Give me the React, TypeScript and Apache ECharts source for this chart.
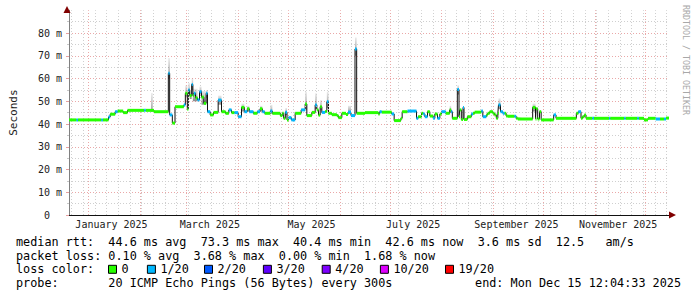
import React, { useEffect, useRef } from 'react';
import * as echarts from 'echarts';

// ---- time frame ----
const END_TIME = Date.UTC(2025, 11, 15, 12, 4, 33);
const SPAN_DAYS = 360;
const DAY = 86400000;
const START_TIME = END_TIME - SPAN_DAYS * DAY;

// ---- median RTT (step segments): start day (days since start of the graph), median ms, loss level index ----
const segStartDays = [
  0, 4.5, 5.4, 19.4, 20.3, 23.7, 24.7, 27.7, 29.1, 32.5, 35.1, 45.1, 46.0, 51.0,
  59.6, 60.4, 62.0, 63.6, 68.9, 69.8, 71.0, 71.6, 72.4, 73.6, 74.3, 74.9, 75.9, 77.1,
  78.3, 79.5, 80.9, 82.3, 83.1, 84.7, 86.7, 89.5, 91.5, 93.9, 95.9, 97.5, 99.3, 101.5,
  103.5, 105.2, 106.9, 108.2, 110.6, 113.0, 114.6, 116.0, 117.4, 120.8, 122.0, 126.8,
  128.0, 128.8, 129.8, 130.8, 131.7, 133.4, 135.7, 139.3, 141.7, 142.7, 145.7, 147.7,
  148.7, 149.7, 150.7, 151.7, 153.7, 154.7, 155.7, 157.7, 160.7, 161.6, 163.7, 166.2,
  167.4, 169.2, 171.6, 172.6, 177.6, 185.6, 186.4, 187.6, 193.6, 195.1, 199.1, 199.9,
  203.1, 208.5, 209.5, 211.5, 212.5, 213.5, 215.1, 216.5, 218.5, 219.5, 221.1, 222.5,
  223.5, 226.0, 228.4, 229.3, 230.0, 233.0, 234.0, 234.4, 235.4, 236.4, 237.0, 239.0,
  241.4, 242.4, 243.4, 247.4, 248.3, 250.4, 251.2, 252.4, 254.3, 255.3, 256.4, 257.3,
  257.7, 258.9, 260.3, 261.3, 262.3, 263.3, 267.3, 268.3, 269.3, 278.2, 279.9, 280.3,
  281.2, 282.3, 283.3, 290.8, 292.2, 304.4, 305.6, 307.2, 308.1, 309.2, 310.2, 314.1,
  315.0, 324.1, 324.7, 333.1, 333.9, 341.0, 341.9, 345.0, 347.4, 352.0, 354.6, 357.0,
  358.2,
];
const segMedianMs = [
  41.8, 41.8, 41.8, 41.8, 41.8, 43.1, 44.3, 45.4, 45.7, 45.0, 46.0, 46.0, 46.0, 45.4,
  62.3, 44.0, 40.4, 47.6, 48.4, 53.5, 46.5, 55.0, 52.5, 57.4, 52.5, 53.5, 51.5, 50.6,
  54.2, 51.8, 49.1, 53.5, 45.4, 44.0, 45.1, 50.5, 45.4, 44.7, 46.2, 45.0, 45.0, 43.2,
  47.3, 45.4, 46.7, 45.4, 44.7, 45.4, 46.7, 45.4, 44.7, 45.7, 44.7, 43.7,
  44.7, 42.5, 45.2, 41.8, 42.8, 41.8, 44.7, 46.2, 48.8, 43.7, 45.1, 48.4,
  46.2, 43.9, 47.6, 45.1, 45.5, 49.8, 44.7, 44.1, 43.7, 42.8, 44.7, 44.2,
  45.2, 43.7, 73.0, 44.7, 45.0, 44.4, 45.4, 45.2, 44.4, 41.5, 42.5, 45.4,
  45.7, 42.5, 43.2, 44.7, 44.4, 43.2, 45.4, 43.5, 42.5, 44.4, 42.5, 44.4,
  45.4, 44.7, 46.2, 45.4, 42.5, 55.2, 43.2, 46.2, 42.0, 47.3, 42.0, 43.2,
  44.4, 44.7, 45.2, 45.7, 43.2, 44.0, 44.7, 45.4, 44.7, 44.0, 42.5, 44.7,
  48.4, 45.4, 44.7, 44.7, 43.5, 43.4, 43.4, 42.5, 42.2, 47.3, 42.2, 46.7,
  42.2, 45.4, 41.8, 44.0, 42.5, 44.7, 45.4, 42.5, 43.2, 44.0, 42.5, 42.5,
  42.5, 42.5, 42.5, 42.5, 42.5, 42.5, 42.5, 41.8, 42.5, 42.2, 42.2, 42.2,
  42.6,
];
const segLoss = [
  0, 1, 0, 1, 0, 1, 0, 1, 0, 0, 0, 1, 0, 0,
  1, 1, 0, 0, 1, 0, 0, 1, 0, 1, 0, 1, 0, 1,
  1, 0, 0, 1, 1, 0, 0, 1, 0, 0, 1, 0, 1, 1,
  0, 1, 0, 1, 0, 1, 0, 1, 0, 1, 0, 0,
  0, 0, 1, 0, 1, 1, 0, 1, 0, 0, 0, 1,
  0, 0, 0, 1, 0, 1, 0, 0, 0, 0, 0, 0,
  1, 1, 1, 0, 0, 0, 1, 0, 1, 0, 0, 0,
  1, 1, 0, 0, 1, 1, 0, 0, 1, 0, 1, 0,
  1, 0, 0, 1, 0, 1, 0, 0, 0, 1, 0, 0,
  1, 0, 0, 1, 1, 0, 0, 0, 0, 0, 0, 0,
  1, 1, 1, 0, 0, 0, 1, 0, 0, 0, 0, 0,
  0, 0, 0, 1, 0, 0, 1, 0, 0, 0, 0, 1,
  0, 1, 0, 1, 0, 1, 0, 0, 0, 1, 0, 1,
  0,
];

// ---- smoke (spread of the pings) ----
const smokeStartDays = [49.3, 59.6, 69.8, 71.6, 72.4, 73.6, 74.3, 78.3, 79.5, 82.3, 89.5, 103.5, 106.9, 114.6, 120.8, 129.8, 141.7, 147.7, 150.7, 154.7, 167.4, 171.6, 228.4, 233.0, 257.7, 278.2];
const smokeEndDays = [50.0, 60.4, 71.0, 72.4, 73.6, 74.3, 77.1, 79.5, 82.3, 83.1, 91.5, 105.2, 108.2, 116.0, 122.0, 130.8, 142.7, 148.7, 151.7, 155.7, 169.2, 172.6, 229.3, 234.0, 258.9, 279.9];
const smokeLowMs = [45.4, 60.0, 52.0, 53.0, 51.0, 55.0, 50.0, 52.5, 48.5, 51.5, 48.5, 45.5, 45.5, 45.5, 44.5, 44.0, 46.0, 46.5, 46.0, 47.0, 44.5, 70.0, 45.0, 53.0, 46.5, 45.5];
const smokeHighMs = [53.6, 69.0, 57.0, 58.0, 55.0, 60.0, 55.5, 56.5, 54.5, 55.0, 52.5, 49.0, 48.0, 48.0, 48.4, 47.0, 54.2, 53.5, 50.5, 54.2, 48.0, 78.0, 48.0, 57.0, 51.3, 49.0];

// ---- legend / loss colours ----
const lossNames = ['0', '1/20', '2/20', '3/20', '4/20', '10/20', '19/20'];
const lossColors = ['#26ff00', '#00b8ff', '#0059ff', '#5e00ff', '#7e00ff', '#dd00ff', '#ff0000'];

// ---- axes ----
const yMin = 0;
const yMax = 90;
const yInterval = 10;
const monthStartDates = ['2025-01-01', '2025-02-01', '2025-03-01', '2025-04-01', '2025-05-01', '2025-06-01', '2025-07-01', '2025-08-01', '2025-09-01', '2025-10-01', '2025-11-01', '2025-12-01'];
const monthLabelDates = ['2025-01-15', '2025-03-15', '2025-05-15', '2025-07-15', '2025-09-15', '2025-11-15'];
const monthLabelTexts = ['January 2025', 'March 2025', 'May 2025', 'July 2025', 'September 2025', 'November 2025'];
const firstWeekDate = '2024-12-22';

// ---- texts ----
const statsLine1 = 'median rtt:  44.6 ms avg  73.3 ms max  40.4 ms min  42.6 ms now  3.6 ms sd  12.5   am/s';
const statsLine2 = 'packet loss: 0.10 % avg  3.68 % max  0.00 % min  1.68 % now';
const lossColorLabel = 'loss color:';
const probeText = 'probe:       20 ICMP Echo Pings (56 Bytes) every 300s';
const endText = 'end: Mon Dec 15 12:04:33 2025';
const watermark = 'RRDTOOL / TOBI OETIKER';

const MONO = '"DejaVu Sans Mono", monospace';
const LEGEND_FONT = 11.8;
// width reserved for each legend label so the boxes fall where the reference puts them
const legendTextWidths = [25.4, 43.6, 45.4, 45.3, 44.7, 51.6, 40];

function App() {
  const ref = useRef<HTMLDivElement>(null);

  useEffect(() => {
    if (!ref.current) return;
    const chart = echarts.init(ref.current, null, { renderer: 'svg' });
    const toTime = (d: number) => START_TIME + d * DAY;
    const dateTs = (s: string) => Date.parse(s + 'T00:00:00Z');

    const segEnds = segStartDays.map((d, i) => (i + 1 < segStartDays.length ? segStartDays[i + 1] : SPAN_DAYS));

    const monthTs = monthStartDates.map(dateTs);
    const weekTs: number[] = [];
    for (let t = dateTs(firstWeekDate); t < END_TIME; t += 7 * DAY) {
      if (!monthTs.some((m) => Math.abs(m - t) < DAY / 2)) weekTs.push(t);
    }
    const labelTs = monthLabelDates.map(dateTs);

    const medianLine: any[] = segStartDays.map((d, i) => [toTime(d), segMedianMs[i]]);
    medianLine.push([toTime(SPAN_DAYS), segMedianMs[segMedianMs.length - 1]]);

    const smokeData = smokeStartDays.map((d, i) => [toTime(d), toTime(smokeEndDays[i]), smokeLowMs[i], smokeHighMs[i]]);

    const lossSeries = lossNames.map((name, li) => ({
      type: 'custom',
      name,
      z: 5,
      itemStyle: { color: lossColors[li] },
      encode: { x: [0, 1], y: 2 },
      data: segStartDays
        .map((d, i) => (segLoss[i] === li ? [toTime(d), toTime(segEnds[i]), segMedianMs[i]] : null))
        .filter((v) => v !== null),
      renderItem: (params: any, api: any) => {
        const p1 = api.coord([api.value(0), api.value(2)]);
        const p2 = api.coord([api.value(1), api.value(2)]);
        return {
          type: 'rect',
          shape: { x: p1[0], y: p1[1] - 1.5, width: Math.max(p2[0] - p1[0], 1), height: 3 },
          style: { fill: lossColors[li] },
        };
      },
    }));

    const textStyleBase = { fontFamily: MONO, fontSize: LEGEND_FONT, fill: '#000', align: 'left', verticalAlign: 'middle' };

    const option: any = {
      animation: false,
      backgroundColor: '#ffffff',
      grid: { left: 67, right: 28, top: 10.25, bottom: 82 },
      legend: {
        data: lossNames.map((n, i) => ({ name: n, textStyle: { width: legendTextWidths[i], overflow: 'none' } })),
        left: 108,
        top: 262.3,
        padding: 0,
        icon: 'rect',
        itemWidth: 8,
        itemHeight: 8,
        itemGap: 0,
        selectedMode: false,
        itemStyle: { borderColor: '#000', borderWidth: 1 },
        textStyle: { fontFamily: MONO, fontSize: LEGEND_FONT, color: '#000', lineHeight: 14 },
      },
      xAxis: {
        type: 'value',
        min: START_TIME,
        max: END_TIME,
        axisLine: { show: true, lineStyle: { color: '#111', width: 1 } },
        axisTick: { show: false },
        splitLine: { show: false },
        axisLabel: {
          customValues: labelTs,
          margin: 4,
          fontFamily: MONO,
          fontSize: 10,
          color: '#222',
          hideOverlap: false,
          formatter: (val: number) => {
            const idx = labelTs.findIndex((t) => Math.abs(t - val) < DAY / 2);
            return idx >= 0 ? monthLabelTexts[idx] : '';
          },
        },
      },
      yAxis: {
        type: 'value',
        min: yMin,
        max: yMax,
        interval: yInterval,
        name: 'Seconds',
        nameLocation: 'middle',
        nameRotate: 90,
        nameGap: 50,
        nameTextStyle: { fontFamily: MONO, fontSize: 11, color: '#222' },
        axisLine: { show: true, lineStyle: { color: '#808080', width: 1 } },
        axisTick: { show: true, length: 3, lineStyle: { color: '#e6a0a0' } },
        minorTick: { show: true, splitNumber: 2, length: 2, lineStyle: { color: '#c8c8c8' } },
        splitLine: { show: true, showMaxLine: false, lineStyle: { color: '#eaa8a8', type: [1, 2], width: 1 } },
        minorSplitLine: { show: true, lineStyle: { color: '#cfcfcf', type: [1, 2], width: 1 } },
        axisLabel: {
          margin: 7,
          fontFamily: MONO,
          fontSize: 10,
          color: '#222',
          formatter: (v: number) => {
            if (v > 80) return '';
            return v === 0 ? '{z|0}' : v + ' m';
          },
          rich: { z: { fontFamily: MONO, fontSize: 10, color: '#222', padding: [0, 12, 0, 0] } },
        },
      },
      series: [
        {
          type: 'line',
          name: 'grid',
          data: [],
          z: 1,
          silent: true,
          markLine: {
            silent: true,
            symbol: ['none', 'none'],
            label: { show: false },
            animation: false,
            data: [
              ...weekTs.map((t) => ({ xAxis: t, lineStyle: { color: '#cfcfcf', type: [1, 2], width: 1 } })),
              ...monthTs.map((t) => ({ xAxis: t, lineStyle: { color: '#eaa8a8', type: [1, 2], width: 1 } })),
            ],
          },
        },
        {
          type: 'custom',
          name: 'smoke',
          z: 2,
          silent: true,
          encode: { x: [0, 1], y: [2, 3] },
          data: smokeData,
          renderItem: (params: any, api: any) => {
            const p1 = api.coord([api.value(0), api.value(3)]);
            const p2 = api.coord([api.value(1), api.value(2)]);
            return {
              type: 'rect',
              shape: { x: p1[0], y: p1[1], width: Math.max(p2[0] - p1[0], 1.5), height: p2[1] - p1[1] },
              style: {
                fill: new echarts.graphic.LinearGradient(0, 0, 0, 1, [
                  { offset: 0, color: 'rgba(0,0,0,0.08)' },
                  { offset: 1, color: 'rgba(0,0,0,0.45)' },
                ]),
              },
            };
          },
        },
        {
          type: 'line',
          name: 'median',
          step: 'end',
          z: 3,
          silent: true,
          showSymbol: false,
          data: medianLine,
          lineStyle: { color: '#111', width: 1 },
        },
        ...lossSeries,
      ],
      graphic: [
        { type: 'polygon', shape: { points: [[67, 6], [63.5, 13], [70.5, 13]] }, style: { fill: '#800000' }, z: 10 },
        { type: 'polygon', shape: { points: [[676, 215], [669, 211.5], [669, 218.5]] }, style: { fill: '#800000' }, z: 10 },
        {
          type: 'text', x: 686, y: 5, rotation: -Math.PI / 2,
          style: { text: watermark, fontFamily: MONO, fontSize: 8.3, fill: '#a8a8a8', align: 'left', verticalAlign: 'middle' },
        },
        { type: 'text', x: 16, y: 241.5, style: { ...textStyleBase, text: statsLine1 } },
        { type: 'text', x: 16, y: 255.5, style: { ...textStyleBase, text: statsLine2 } },
        { type: 'text', x: 16, y: 269.3, style: { ...textStyleBase, text: lossColorLabel } },
        { type: 'text', x: 16, y: 283, style: { ...textStyleBase, text: probeText } },
        { type: 'text', x: 681, y: 283, style: { ...textStyleBase, align: 'right', text: endText } },
      ],
    };

    chart.setOption(option);
    return () => chart.dispose();
  }, []);

  return <div ref={ref} style={{ position: 'absolute', left: 0, top: 0, width: 697, height: 297, background: '#fff' }} />;
}

export default App;
